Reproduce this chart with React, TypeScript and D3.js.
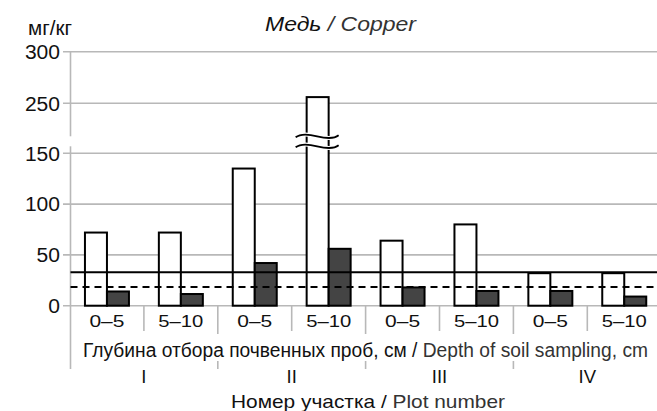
import React from "react";
import * as d3 from "d3";

const depths = ["0–5", "5–10", "0–5", "5–10", "0–5", "5–10", "0–5", "5–10"];
const plots = ["I", "II", "III", "IV"];
const series = ["total", "mobile"];
const whiteValues = [72, 72, 135, 256, 64, 80, 32, 32];
const darkValues = [14, 11.5, 42, 56, 18, 14.5, 14.5, 9];
const yTicks = [0, 50, 100, 150, 250, 300];
const solidLevel = 33;
const dashedLevel = 18.5;

const W = 657;
const H = 411;
const FONT = "'Liberation Sans', Arial, sans-serif";

export default function App() {
  const x = d3
    .scaleBand<number>()
    .domain(d3.range(depths.length))
    .range([70, 70 + 8 * 73.9])
    .paddingInner(0)
    .paddingOuter(0);
  const bw = x.bandwidth();
  const x1 = d3.scaleBand<string>().domain(series).range([0, bw]).paddingInner(0).paddingOuter(0.68);
  // broken axis: 150..250 compressed into one tick interval
  const y = d3.scaleLinear().domain([0, 150, 250, 300]).range([305.7, 153.3, 103.3, 51.7]);

  const axisX = 70.5;
  const breakY1 = y(150) - 17;
  const breakY2 = y(150) - 7;
  const gridColor = "#b8b8b8";

  const brokenIdx = 3;
  const bx0 = (x(brokenIdx) as number) + (x1("total") as number);
  const bx1 = bx0 + x1.bandwidth();
  const wave = (yy: number) => {
    const a = bx0 - 11;
    const b = bx1 + 10;
    const m = (a + b) / 2;
    return `M${a},${yy + 1} C${a + 5},${yy - 3} ${m - 8},${yy - 2} ${m},${yy} S${b - 5},${yy + 3} ${b},${yy - 1}`;
  };

  const bigSeps = [0, 2, 4, 6];
  const smallSeps = [1, 3, 5, 7];

  return (
    <svg width={W} height={H} style={{ position: "absolute", left: 0, top: 0 }} fontFamily={FONT}>
      <rect width={W} height={H} fill="#fff" />
      {/* title */}
      <text
        x={265}
        y={30.5}
        fontSize={20}
        fontStyle="italic"
        fill="#111"
        textLength={151}
        lengthAdjust="spacingAndGlyphs"
      >
        Медь <tspan fill="#333">/ Copper</tspan>
      </text>
      <text x={28} y={35} fontSize={20} fill="#111" textLength={44} lengthAdjust="spacingAndGlyphs">
        мг/кг
      </text>

      {/* gridlines + ticks */}
      {yTicks.map((t) => (
        <g key={t}>
          <line x1={63} x2={W} y1={y(t)} y2={y(t)} stroke={gridColor} strokeWidth={1.6} />
          <text
            x={60}
            y={y(t)}
            dy="0.36em"
            textAnchor="end"
            fontSize={20}
            fill="#111"
            textLength={String(t).length * 11.7}
            lengthAdjust="spacingAndGlyphs"
          >
            {t}
          </text>
        </g>
      ))}
      {/* y axis with break */}
      <line x1={axisX} x2={axisX} y1={y(300)} y2={breakY1} stroke={gridColor} strokeWidth={1.6} />
      <line x1={axisX} x2={axisX} y1={breakY2} y2={369} stroke={gridColor} strokeWidth={1.6} />

      {/* category separators */}
      {bigSeps.slice(1).map((i) => (
        <g key={"b" + i}>
          <line x1={x(i)} x2={x(i)} y1={y(0)} y2={334} stroke={gridColor} strokeWidth={1.6} />
          <line x1={x(i)} x2={x(i)} y1={361} y2={369} stroke={gridColor} strokeWidth={1.6} />
        </g>
      ))}
      {smallSeps.map((i) => (
        <line key={"s" + i} x1={x(i)} x2={x(i)} y1={y(0)} y2={331} stroke={gridColor} strokeWidth={1.6} />
      ))}

      {/* bars */}
      {depths.map((_, i) => {
        const xa = (x(i) as number) + (x1("total") as number);
        const xb = (x(i) as number) + (x1("mobile") as number);
        return (
          <g key={"bar" + i}>
            <rect
              x={xa}
              y={y(whiteValues[i])}
              width={x1.bandwidth()}
              height={y(0) - y(whiteValues[i])}
              fill="#fff"
              stroke="#000"
              strokeWidth={2}
            />
            <rect
              x={xb}
              y={y(darkValues[i])}
              width={x1.bandwidth()}
              height={y(0) - y(darkValues[i])}
              fill="#444"
              stroke="#000"
              strokeWidth={2}
            />
          </g>
        );
      })}

      {/* break marks */}
      <path d={wave(breakY1)} fill="none" stroke="#fff" strokeWidth={4} />
      <path d={wave(breakY2)} fill="none" stroke="#fff" strokeWidth={4} />
      <path d={wave(breakY1)} fill="none" stroke="#000" strokeWidth={1.8} />
      <path d={wave(breakY2)} fill="none" stroke="#000" strokeWidth={1.8} />

      {/* reference levels */}
      <line x1={axisX} x2={W} y1={y(solidLevel)} y2={y(solidLevel)} stroke="#000" strokeWidth={2} />
      <line
        x1={axisX}
        x2={W}
        y1={y(dashedLevel)}
        y2={y(dashedLevel)}
        stroke="#000"
        strokeWidth={2}
        strokeDasharray="7,5"
      />

      {/* depth labels */}
      {depths.map((d, i) => (
        <text
          key={"d" + i}
          x={(x(i) as number) + bw / 2}
          y={327}
          textAnchor="middle"
          fontSize={16.5}
          fill="#111"
          textLength={d.length > 3 ? 45 : 35}
          lengthAdjust="spacingAndGlyphs"
        >
          {d}
        </text>
      ))}
      <text
        x={83}
        y={356.5}
        fontSize={20}
        fill="#111"
        textLength={565}
        lengthAdjust="spacingAndGlyphs"
      >
        Глубина отбора почвенных проб, см / <tspan fill="#333">Depth of soil sampling, cm</tspan>
      </text>
      {plots.map((p, k) => (
        <text
          key={p}
          x={(x(k * 2) as number) + bw}
          y={382.5}
          textAnchor="middle"
          fontSize={18.5}
          fill="#111"
        >
          {p}
        </text>
      ))}
      <text
        x={231}
        y={408}
        fontSize={19}
        fill="#111"
        textLength={274}
        lengthAdjust="spacingAndGlyphs"
      >
        Номер участка / <tspan fill="#333">Plot number</tspan>
      </text>
    </svg>
  );
}
